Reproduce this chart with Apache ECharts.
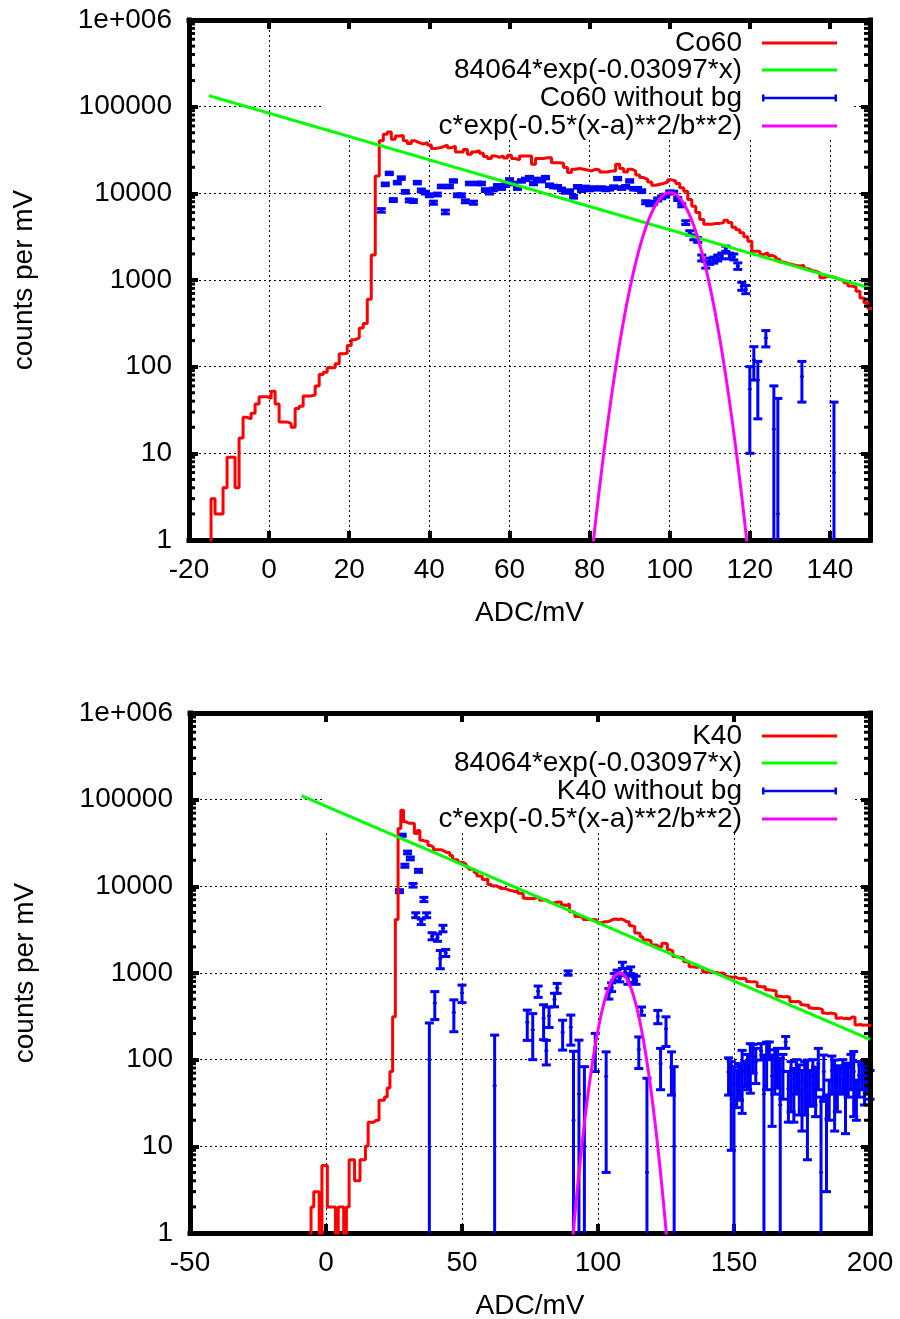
<!DOCTYPE html>
<html>
<head>
<meta charset="utf-8">
<script src="https://cdn.jsdelivr.net/npm/echarts@6/dist/echarts.min.js"></script>
<style>
  html, body { margin: 0; padding: 0; background: #fff; }
  #chart { width: 900px; height: 1319px; }
</style>
</head>
<body>
<div id="chart"></div>
<script>
// ---------------- Co60 spectrum (1 mV bins, first bin centred at -14 mV) ----------------
const co60FirstBin = -14;
const co60Counts = [
  3, 2, 2, 4, 9, 9, 4, 15, 26, 25,
  29, 37, 45, 45, 43, 52, 37, 23, 23, 22,
  20, 33, 35, 46, 46, 47, 60, 81, 86, 97,
  97, 108, 141, 143, 175, 205, 215, 280, 314, 600,
  1940, 15800, 40300, 48000, 51000, 42000, 46000, 46500, 40300, 37500,
  40300, 38500, 37000, 38500, 36200, 32800, 33500, 34500, 36000, 33500,
  35000, 30000, 30000, 32000, 28200, 30000, 31000, 29000, 26600, 25200,
  27000, 26000, 27000, 25500, 27500, 25200, 24300, 27000, 27000, 27000,
  21700, 25200, 25200, 25800, 25800, 22500, 22500, 22200, 19800, 17400,
  19000, 19300, 19000, 18600, 18100, 19000, 18600, 17600, 17600, 18100,
  18100, 21700, 19300, 17600, 19000, 18100, 16300, 15200, 14500, 13500,
  12400, 12700, 13000, 13500, 14300, 13900, 13000, 11600, 10600, 8500,
  7100, 6000, 5000, 4400, 4400, 4500, 4500, 4600, 4900, 4600,
  4050, 3800, 3500, 3150, 2800, 2150, 2150, 1970, 2060, 1920,
  1850, 1730, 1610, 1550, 1510, 1470, 1450, 1470, 1350, 1290,
  1260, 1210, 1060, 1110, 1090, 1060, 1010, 990, 930, 850,
  830, 740, 620, 545, 470
];

// Co60 with background subtracted: dense run from 28 mV, then isolated points
const co60NoBgFirst = 28;
const co60NoBgDense = [
  6360, 12700, 17000, 8370, 13300, 15000, 10400, 8300, 8150, 13300,
  10800, 10200, 9500, 7800, 9700, 12000, 6100, 12000, 13900, 9500,
  9500, 8100, 13000, 7800, 13000, 13000, 10900, 10200, 11100, 12200,
  11500, 12400, 14300, 13000, 11500, 13900, 14500, 15200, 13000, 14500,
  14000, 15200, 12400, 12000, 11900, 11100, 10400, 10600, 9150, 11900,
  10900, 11700, 11100, 11500, 11300, 11500, 11100, 11300, 11800, 14800,
  11500, 11900, 13900, 11300, 11300, 10600, 7900, 7500, 7800, 8500,
  9000, 9400, 10300, 10200, 8600, 7300, 4600, 3500, 3100, 2900,
  1800, 1500, 1650, 1700, 1800, 1900, 2300, 1900, 1850, 1450,
  850, 780
];
const co60NoBgDenseErr = [
  300, 450, 550, 320, 450, 500, 380, 320, 320, 450,
  400, 380, 360, 320, 360, 420, 300, 420, 460, 360,
  360, 320, 450, 320, 450, 450, 400, 380, 400, 420,
  400, 420, 470, 450, 400, 460, 470, 490, 450, 470,
  460, 490, 430, 420, 420, 400, 380, 390, 350, 420,
  400, 410, 400, 410, 400, 410, 400, 400, 410, 480,
  410, 420, 460, 400, 400, 390, 320, 310, 320, 340,
  350, 360, 380, 380, 340, 310, 230, 200, 190, 180,
  140, 130, 135, 135, 140, 145, 160, 145, 145, 125,
  90, 85
];
const co60NoBgSparseX = [120, 121, 122, 124, 126, 127, 133, 141];
const co60NoBgSparseY = [55, 120, 70, 215, 19, 2, 77, 6];
const co60NoBgSparseErr = [45, 50, 45, 46, 41, 41, 38, 33];

// ---------------- K40 spectrum (1 mV bins, first bin centred at -5 mV) ----------------
const k40FirstBin = -5;
const k40Counts = [
  2, 3, 3, 0, 6, 6, 2, 2, 2, 0,
  2, 2, 0, 2, 7, 7, 4, 4, 7, 7,
  10, 19, 19, 20, 20, 34, 34, 37, 47, 73,
  312, 4150, 46500, 75700, 55500, 53400, 53400, 53000, 40800, 44000,
  34100, 33200, 33200, 29500, 28400, 26400, 26400, 26400, 25500, 24500,
  24500, 22700, 20300, 20300, 18800, 18800, 18000, 16700, 15700, 15700,
  14400, 13200, 12900, 12000, 12200, 10500, 10000, 10200, 9800, 9400,
  9500, 9300, 9000, 8900, 8700, 8900, 8300, 8200, 7300, 7200,
  7300, 7200, 7500, 7500, 6900, 7000, 6800, 6500, 6400, 6500,
  6600, 6600, 6100, 6000, 6300, 5100, 5000, 4500, 4450, 4400,
  4150, 4150, 4100, 4150, 4100, 3800, 3800, 3900, 3900, 4000,
  4150, 4200, 4150, 4200, 4100, 3900, 3900, 3500, 3450, 2900,
  2850, 2620, 2400, 2400, 2350, 2100, 2100, 2000, 2000, 2200,
  2180, 1850, 1800, 1550, 1530, 1520, 1500, 1350, 1330, 1180,
  1170, 1160, 1180, 1150, 1030, 1020, 1030, 1010, 1020, 990,
  1000, 980, 910, 900, 890, 905, 870, 860, 870, 855,
  800, 790, 795, 780, 700, 690, 700, 640, 635, 630,
  620, 540, 535, 530, 535, 525, 470, 465, 470, 460,
  430, 425, 428, 395, 390, 392, 388, 380, 345, 340,
  345, 342, 335, 300, 305, 298, 300, 295, 310, 308,
  252, 255, 250, 252, 248, 250
];

// K40 with background subtracted
const k40NoBgX = [
  27, 28, 29, 30, 31, 32, 33, 34, 35, 36, 37, 38, 39, 40, 41, 42, 43, 44,
  47, 50, 62, 74, 76, 78, 80, 81, 82, 84, 85, 87, 89, 90, 91, 93, 95, 99, 103,
  104, 105, 106, 107, 108, 109, 110, 111, 112, 113, 114, 115, 116,
  118, 122, 123, 125, 127, 128,
  148, 149, 150, 151, 152, 153, 154, 155, 156, 157, 158, 160, 161, 162, 163, 164,
  165, 166, 167, 168, 169, 170, 171, 172, 173, 174, 175, 176, 177, 178, 179, 180,
  181, 182, 183, 184, 185, 186, 187, 188, 189, 190, 191, 192, 193, 194, 195, 196,
  197, 198, 199, 200
];
const k40NoBgY = [
  8800, 38900, 17300, 24600, 21000, 10300, 4650, 15100, 3900, 7060, 4650, 100, 2665, 450, 2570, 1470, 3270, 1710,
  350, 590, 50, 270, 220, 615, 300, 127, 320, 495, 670, 207, 1000, 237, 20, 40, 10, 137, 64,
  580, 690, 900, 990, 880, 1230, 1030, 830, 1080, 870, 830, 131, 365,
  5, 315, 90, 227, 81, 10,
  72, 52, 30, 52, 62, 76, 72, 80, 97, 110, 94, 126, 40, 102, 130, 65,
  85, 91, 30, 75, 160, 46, 60, 49, 70, 55, 45, 59, 53, 52, 65, 52,
  90, 5, 73, 21, 39, 75, 57, 55, 60, 70, 50, 64, 80, 73, 39, 66,
  66, 60, 70, 55
];
const k40NoBgErr = [
  350, 1100, 700, 900, 800, 500, 300, 600, 280, 400, 300, 165, 250, 160, 250, 350, 280, 160,
  140, 135, 142, 103, 120, 92, 130, 40, 85, 88, 88, 78, 57, 90, 105, 128, 73, 64, 59,
  80, 80, 85, 90, 90, 100, 95, 90, 95, 90, 90, 52, 40,
  56, 55, 45, 85, 42, 73,
  33, 43, 53, 24, 28, 52, 23, 35, 56, 40, 41, 27, 73, 57, 30, 48,
  45, 44, 74, 40, 25, 27, 35, 30, 30, 32, 30, 36, 46, 23, 35, 30,
  45, 32, 40, 18, 19, 35, 42, 30, 19, 30, 36, 27, 35, 51, 19, 29,
  21, 30, 29, 20
];

// ---------------- fitted curves ----------------
const bgAmp = 84064, bgSlope = 0.03097;          // 84064*exp(-0.03097*x)
const bgRangeCo60 = [-15, 150];
const bgRangeK40 = [-9, 200];
const co60Peak = { c: 10200, a: 100.1, b: 4.45 };  // c*exp(-0.5*(x-a)**2/b**2)
const k40Peak = { c: 1000, a: 108, b: 4.6 };

// ---------------- axes ----------------
const yTickLabels = ['1', '10', '100', '1000', '10000', '100000', '1e+006'];
const yMinorMantissas = [2, 3, 4, 5, 6, 7, 8, 9];
const yDecades = [1, 10, 100, 1000, 10000, 100000];

const FONT = "'Liberation Sans', Arial, Helvetica, sans-serif";
const FS = 28;
const EMPTY_BIN = 0.05;   // empty bins drop below the log axis floor

// histogram outline as 'end' steps from bin edges
function histSteps(firstBin, counts) {
  const pts = [[firstBin - 1.5, EMPTY_BIN]];
  counts.forEach((c, i) => pts.push([firstBin + i - 0.5, c > 0 ? c : EMPTY_BIN]));
  const last = counts[counts.length - 1];
  pts.push([firstBin + counts.length - 0.5, last > 0 ? last : EMPTY_BIN]);
  return pts;
}
function expCurve(range) {
  const pts = [];
  for (let x = range[0]; x <= range[1] + 1e-9; x += 1) pts.push([x, bgAmp * Math.exp(-bgSlope * x)]);
  return pts;
}
function gaussCurve(p) {
  const pts = [];
  for (let x = p.a - 30; x <= p.a + 30 + 1e-9; x += 0.25) {
    pts.push([x, p.c * Math.exp(-0.5 * (x - p.a) * (x - p.a) / (p.b * p.b))]);
  }
  return pts;
}
function zip3(xs, ys, es) { return xs.map((x, i) => [x, ys[i], es[i]]); }

const co60NoBg = co60NoBgDense.map((v, i) => [co60NoBgFirst + i, v, co60NoBgDenseErr[i]])
  .concat(zip3(co60NoBgSparseX, co60NoBgSparseY, co60NoBgSparseErr));
const k40NoBg = zip3(k40NoBgX, k40NoBgY, k40NoBgErr);

// y error bars with caps; bars running below the axis floor end at the frame
function errorBarItem(params, api) {
  const x = api.value(0), v = api.value(1), e = api.value(2);
  const cs = params.coordSys;
  const bottom = cs.y + cs.height;
  const hi = v + e, lo = v - e;
  const top = api.coord([x, hi]);
  const px = top[0];
  const yHi = top[1];
  const yLo = lo >= 1 ? api.coord([x, lo])[1] : bottom;
  const st = { stroke: '#0000ff', lineWidth: 3 };
  const kids = [
    { type: 'line', shape: { x1: px, y1: yHi, x2: px, y2: yLo }, style: st },
    { type: 'line', shape: { x1: px - 4.5, y1: yHi, x2: px + 4.5, y2: yHi }, style: st }
  ];
  if (lo >= 1) kids.push({ type: 'line', shape: { x1: px - 4.5, y1: yLo, x2: px + 4.5, y2: yLo }, style: st });
  if (v >= 1) {
    const c = api.coord([x, v]);
    kids.push({ type: 'rect', shape: { x: px - 2, y: c[1] - 1, width: 4, height: 2 }, style: { fill: '#0000ff' } });
  }
  return { type: 'group', children: kids };
}

// minor tics of the log axes on the left and right frame
const minorTickValues = [];
yDecades.forEach(d => yMinorMantissas.forEach(m => minorTickValues.push(m * d)));
function minorTickItem(params, api) {
  const cs = params.coordSys;
  const y = api.coord([api.value(0), api.value(1)])[1];
  const st = { stroke: '#000', lineWidth: 3 };
  return {
    type: 'group', children: [
      { type: 'line', shape: { x1: cs.x, y1: y, x2: cs.x + 6, y2: y }, style: st },
      { type: 'line', shape: { x1: cs.x + cs.width - 6, y1: y, x2: cs.x + cs.width, y2: y }, style: st }
    ]
  };
}

const panels = [
  { grid: { left: 189, top: 20, width: 681, height: 520 }, xMin: -20, xMax: 150, xStep: 20,
    legendRows: [43, 70, 98, 126], keyBox: { x: 323, y: 23, width: 530, height: 117 } },
  { grid: { left: 190, top: 713, width: 680, height: 520 }, xMin: -50, xMax: 200, xStep: 50,
    legendRows: [736, 763, 791, 819], keyBox: { x: 323, y: 716, width: 530, height: 117 } }
];

const frameLine = { show: true, onZero: false, lineStyle: { color: '#000', width: 5, cap: 'square' } };
const tickStyle = { inside: true, length: 9, lineStyle: { color: '#000', width: 4 } };
const gridLine = { show: true, lineStyle: { color: '#000', width: 1, type: [2, 3] } };
const labelStyle = { fontSize: FS, fontFamily: FONT, color: '#000' };

const xAxes = [], yAxes = [], grids = [];
panels.forEach((p, gi) => {
  grids.push(Object.assign({ show: false, containLabel: false, outerBoundsMode: 'none' }, p.grid));
  xAxes.push({
    type: 'value', gridIndex: gi, position: 'bottom', min: p.xMin, max: p.xMax, interval: p.xStep,
    axisLine: frameLine, axisTick: tickStyle, splitLine: gridLine,
    axisLabel: Object.assign({ margin: 16, showMinLabel: true, showMaxLabel: true,
      formatter: v => (Math.abs(v % p.xStep) < 1e-9 ? String(v) : '') }, labelStyle),
    name: 'ADC/mV', nameLocation: 'middle', nameGap: 59, nameTextStyle: labelStyle
  });
  xAxes.push({
    type: 'value', gridIndex: gi, position: 'top', min: p.xMin, max: p.xMax, interval: p.xStep, z: 3,
    axisLine: frameLine, axisTick: tickStyle, axisLabel: { show: false }, splitLine: { show: false }
  });
  yAxes.push({
    type: 'log', logBase: 10, gridIndex: gi, position: 'left', min: 1, max: 1e6,
    axisLine: frameLine, axisTick: tickStyle, splitLine: gridLine,
    axisLabel: Object.assign({ margin: 17, showMinLabel: true, showMaxLabel: true,
      formatter: v => yTickLabels[Math.round(Math.log10(v))] }, labelStyle),
    name: 'counts per mV', nameLocation: 'middle', nameGap: 151, nameRotate: 90, nameTextStyle: labelStyle
  });
  yAxes.push({
    type: 'log', logBase: 10, gridIndex: gi, position: 'right', min: 1, max: 1e6, z: 3,
    axisLine: frameLine, axisTick: tickStyle, axisLabel: { show: false }, splitLine: { show: false }
  });
});

const lineBase = { type: 'line', showSymbol: false, symbol: 'none', animation: false, silent: true };
function lineSeries(name, gi, data, color, extra) {
  return Object.assign({}, lineBase, {
    name, xAxisIndex: gi * 2, yAxisIndex: gi * 2, data, color,
    lineStyle: { color, width: 3 }, itemStyle: { color }
  }, extra || {});
}
function barSeries(name, gi, data) {
  return {
    type: 'custom', name, xAxisIndex: gi * 2, yAxisIndex: gi * 2, data,
    dimensions: ['x', 'y', 'err'], encode: { x: 0, y: 1 },
    itemStyle: { color: '#0000ff' }, renderItem: errorBarItem, silent: true, animation: false
  };
}
function minorSeries(gi, xAt) {
  return {
    type: 'custom', xAxisIndex: gi * 2, yAxisIndex: gi * 2, z: 4, silent: true, animation: false,
    dimensions: ['x', 'y'], data: minorTickValues.map(v => [xAt, v]), encode: { x: 0, y: 1 },
    renderItem: minorTickItem
  };
}

const expName = '84064*exp(-0.03097*x)';
const gaussName = 'c*exp(-0.5*(x-a)**2/b**2)';

const series = [
  lineSeries('Co60', 0, histSteps(co60FirstBin, co60Counts), '#ff0000', { step: 'end' }),
  lineSeries(expName, 0, expCurve(bgRangeCo60), '#00ff00'),
  barSeries('Co60 without bg', 0, co60NoBg),
  lineSeries(gaussName, 0, gaussCurve(co60Peak), '#ff00ff'),
  minorSeries(0, 0),
  lineSeries('K40', 1, histSteps(k40FirstBin, k40Counts), '#ff0000', { step: 'end' }),
  lineSeries(expName, 1, expCurve(bgRangeK40), '#00ff00'),
  barSeries('K40 without bg', 1, k40NoBg),
  lineSeries(gaussName, 1, gaussCurve(k40Peak), '#ff00ff'),
  minorSeries(1, 0)
];

const barIcon = 'path://M0,2.25h75v2.5h-75z M0,0h2.5v7h-2.5z M72.5,0h2.5v7h-2.5z';
const legendEntries = [
  [['Co60', 'rect', 3], [expName, 'rect', 3], ['Co60 without bg', barIcon, 7], [gaussName, 'rect', 3]],
  [['K40', 'rect', 3], [expName, 'rect', 3], ['K40 without bg', barIcon, 7], [gaussName, 'rect', 3]]
];
const legends = [];
panels.forEach((p, gi) => {
  legendEntries[gi].forEach((ent, r) => {
    legends.push({
      data: [{ name: ent[0], icon: ent[1] }], right: 63, top: p.legendRows[r] - 14,
      orient: 'horizontal', align: 'right', itemWidth: 75, itemHeight: ent[2], padding: 0,
      selectedMode: false, itemStyle: { borderWidth: 0 },
      textStyle: { fontSize: FS, fontFamily: FONT, color: '#000', lineHeight: 28, padding: [0, 15, 0, 0] }
    });
  });
});

// opaque key background: hides the grid behind the key, data stays on top
const graphic = panels.map(p => ({
  type: 'rect', z: 1, silent: true, shape: p.keyBox, style: { fill: '#fff' }
}));

const chart = echarts.init(document.getElementById('chart'), null, { renderer: 'canvas' });
chart.setOption({
  animation: false,
  backgroundColor: '#fff',
  textStyle: { fontFamily: FONT },
  grid: grids,
  xAxis: xAxes,
  yAxis: yAxes,
  legend: legends,
  graphic,
  series
});
</script>
</body>
</html>
